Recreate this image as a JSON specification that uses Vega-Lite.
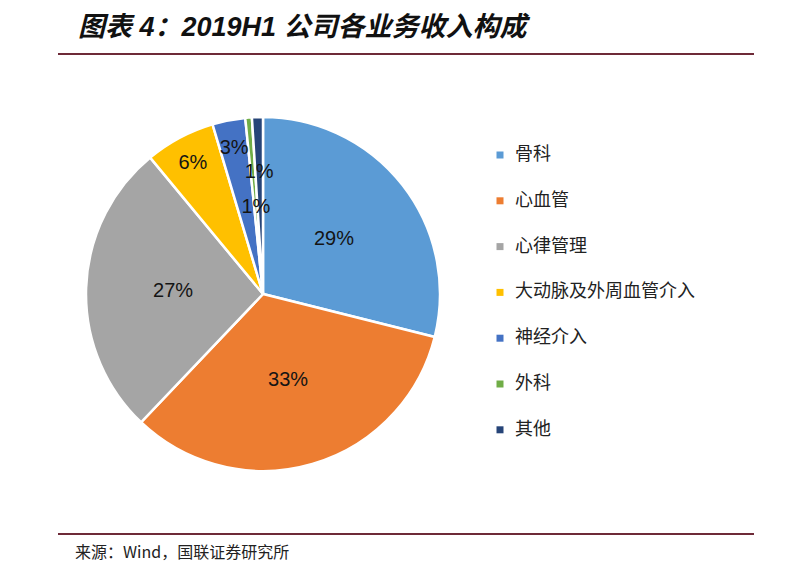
{
  "$schema": "https://vega.github.io/schema/vega-lite/v6.json",
  "background": "white",
  "padding": {"left": 58, "top": 14, "right": 40, "bottom": 5},
  "title": {
    "text": "图表 4：2019H1 公司各业务收入构成",
    "anchor": "start",
    "dx": 20,
    "font": "Liberation Sans, Noto Sans CJK SC",
    "fontSize": 27,
    "fontWeight": "bold",
    "fontStyle": "italic",
    "color": "#111111",
    "offset": 11
  },
  "spacing": 0,
  "vconcat": [
    {
      "width": 696,
      "height": 2,
      "view": {"stroke": null, "fill": "#6e2a38"},
      "data": {"values": []},
      "mark": "rule",
      "encoding": {}
    },
    {
      "width": 410,
      "height": 478,
      "view": {"stroke": null},
      "data": {
        "values": [
          {"category": "骨科", "rank": 1, "share": 0.289},
          {"category": "心血管", "rank": 2, "share": 0.332},
          {"category": "心律管理", "rank": 3, "share": 0.269},
          {"category": "大动脉及外周血管介入", "rank": 4, "share": 0.064},
          {"category": "神经介入", "rank": 5, "share": 0.03},
          {"category": "外科", "rank": 6, "share": 0.006},
          {"category": "其他", "rank": 7, "share": 0.01}
        ]
      },
      "encoding": {
        "theta": {"field": "share", "type": "quantitative", "stack": true},
        "order": {"field": "rank", "type": "quantitative", "sort": "ascending"},
        "color": {
          "field": "category",
          "type": "nominal",
          "sort": ["骨科", "心血管", "心律管理", "大动脉及外周血管介入", "神经介入", "外科", "其他"],
          "scale": {
            "domain": ["骨科", "心血管", "心律管理", "大动脉及外周血管介入", "神经介入", "外科", "其他"],
            "range": ["#5B9BD5", "#ED7D31", "#A5A5A5", "#FFC000", "#4472C4", "#70AD47", "#264478"]
          },
          "legend": {
            "title": null,
            "orient": "none",
            "legendX": 433,
            "legendY": 93,
            "symbolType": "square",
            "symbolSize": 49,
            "symbolStrokeWidth": 0,
            "labelFont": "Noto Sans CJK SC",
            "labelFontSize": 18,
            "labelColor": "#222222",
            "labelOffset": 6,
            "labelLimit": 0,
            "rowPadding": 27.8,
            "padding": 0
          }
        }
      },
      "layer": [
        {
          "mark": {"type": "arc", "outerRadius": 177, "stroke": "white", "strokeWidth": 2.5}
        },
        {
          "mark": {"type": "text", "radius": 90, "font": "Liberation Sans", "fontSize": 20},
          "encoding": {
            "text": {
              "condition": {"test": "datum.share >= 0.1", "field": "share", "type": "quantitative", "format": ".0%"},
              "value": ""
            },
            "color": {"value": "#141414"}
          }
        },
        {
          "mark": {"type": "text", "radius": 149, "font": "Liberation Sans", "fontSize": 20},
          "encoding": {
            "text": {
              "condition": {"test": "datum.category === '大动脉及外周血管介入' || datum.category === '神经介入'", "field": "share", "type": "quantitative", "format": ".0%"},
              "value": ""
            },
            "color": {"value": "#141414"}
          }
        },
        {
          "mark": {"type": "text", "radius": 87, "font": "Liberation Sans", "fontSize": 20},
          "encoding": {
            "text": {
              "condition": {"test": "datum.category === '外科'", "field": "share", "type": "quantitative", "format": ".0%"},
              "value": ""
            },
            "color": {"value": "#141414"}
          }
        },
        {
          "mark": {"type": "text", "radius": 122, "font": "Liberation Sans", "fontSize": 20},
          "encoding": {
            "text": {
              "condition": {"test": "datum.category === '其他'", "field": "share", "type": "quantitative", "format": ".0%"},
              "value": ""
            },
            "color": {"value": "#141414"}
          }
        }
      ]
    },
    {
      "width": 696,
      "height": 2,
      "view": {"stroke": null, "fill": "#6e2a38"},
      "data": {"values": []},
      "mark": "rule",
      "encoding": {},
      "title": {
        "text": "来源：Wind，国联证券研究所",
        "orient": "bottom",
        "anchor": "start",
        "dx": 17,
        "font": "Noto Sans CJK SC",
        "fontSize": 16,
        "fontWeight": "normal",
        "color": "#222222",
        "offset": 10
      }
    }
  ]
}
